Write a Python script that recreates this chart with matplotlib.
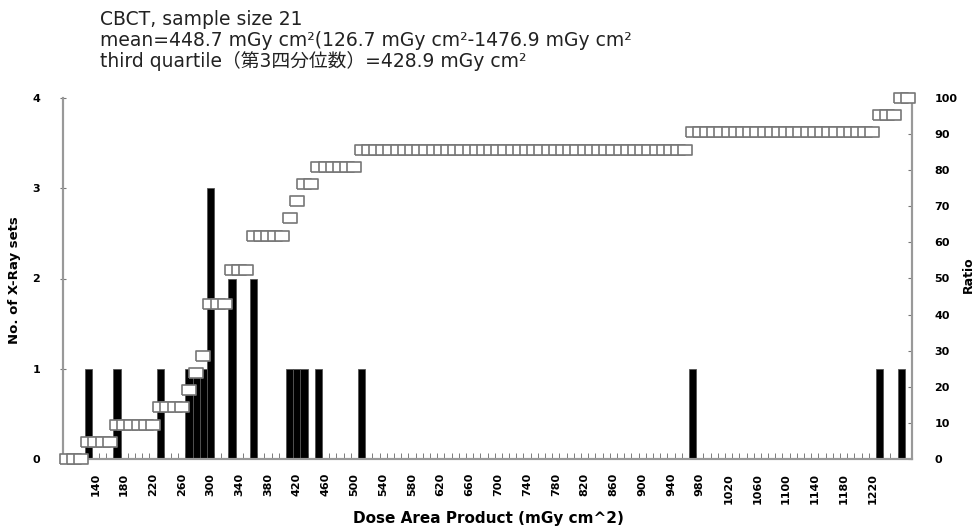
import numpy as np
import matplotlib
matplotlib.use("Agg")
import matplotlib.pyplot as plt

# categories: histogram bins (upper bounds, mGy cm^2), 10-wide
bins = list(range(100, 1280, 10))
tick_values = list(range(140, 1260, 40))

# non-empty bins and their counts (21 samples)
bar_bins = [130, 170, 230, 270, 280, 290, 300, 330, 360, 410, 420, 430, 450, 510, 970, 1230, 1260]
bar_counts = [1, 1, 1, 1, 1, 1, 3, 2, 2, 1, 1, 1, 1, 1, 1, 1, 1]
n_samples = 21

title_lines = ["CBCT, sample size 21",
               "mean=448.7 mGy cm\u00b2(126.7 mGy cm\u00b2-1476.9 mGy cm\u00b2",
               "third quartile\uff08\u7b2c3\u56db\u5206\u4f4d\u6570\uff09=428.9 mGy cm\u00b2"]

counts = np.zeros(len(bins))
for b, c in zip(bar_bins, bar_counts):
    counts[bins.index(b)] = c
ratio = np.cumsum(counts) / n_samples * 100

x = np.arange(len(bins))

fig = plt.figure(figsize=(9.75, 5.26), dpi=100)
ax = fig.add_axes([63/975, 1-459/526, (912-63)/975, (459-98)/526])
ax2 = ax.twinx()

ax.bar(x, counts, width=1.0, color="black", edgecolor="#555555", linewidth=0.6, zorder=2)

rect = [(-0.7, -0.5), (0.7, -0.5), (0.7, 0.5), (-0.7, 0.5), (-0.7, -0.5)]
ax2.plot(x, ratio, linestyle="none", marker=rect, markersize=10,
         markerfacecolor="white", markeredgecolor="#777777", markeredgewidth=1.2,
         clip_on=False, zorder=3)

ax.set_xlim(-0.5, len(bins)-0.5)
ax.set_ylim(0, 4)
ax2.set_ylim(0, 100)

grey = "#999999"
for a in (ax, ax2):
    a.spines["top"].set_visible(False)
    for s in ("left", "right", "bottom"):
        a.spines[s].set_color(grey)
        a.spines[s].set_linewidth(1.5)

ax.set_yticks([0, 1, 2, 3, 4])
ax.tick_params(axis="y", direction="inout", length=5, color="#777777", pad=14, labelsize=8)
ax2.set_yticks(range(0, 101, 10))
ax2.tick_params(axis="y", direction="in", length=3, color="#777777", pad=16, labelsize=8)

ax.set_xticks([bins.index(v) for v in tick_values])
ax.set_xticklabels([str(v) for v in tick_values], rotation=90)
ax.tick_params(axis="x", which="major", length=0, pad=10, labelsize=8)
ax.set_xticks(np.arange(-0.5, len(bins), 1), minor=True)
ax.tick_params(axis="x", which="minor", direction="in", length=4, color="#666666")

for lbl in ax.get_xticklabels() + ax.get_yticklabels() + ax2.get_yticklabels():
    lbl.set_fontweight("bold")

fig.text(15/975, 1-280/526, "No. of X-Ray sets", rotation=90, ha="center", va="center",
         fontsize=9.5, fontweight="bold")
fig.text(968/975, 1-275/526, "Ratio", rotation=90, ha="center", va="center",
         fontsize=9, fontweight="bold")
fig.text(488/975, 1-519/526, "Dose Area Product (mGy cm^2)", ha="center", va="center",
         fontsize=11, fontweight="bold")

baselines = [25, 46, 67]
for line, yb in zip(title_lines, baselines):
    fig.text(100/975, 1-yb/526, line, ha="left", va="baseline", fontsize=13.5,
             color="#222222", family=["DejaVu Sans", "Noto Sans CJK JP"])

fig.savefig("out.png", dpi=100)
